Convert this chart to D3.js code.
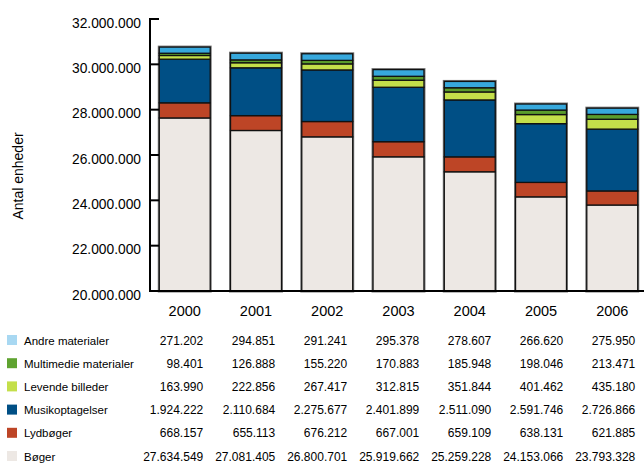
<!DOCTYPE html>
<html><head><meta charset="utf-8">
<script src="https://cdn.jsdelivr.net/npm/d3@7"></script>
<style>body{margin:0;background:#fff}svg{display:block;font-family:"Liberation Sans",Arial,sans-serif}</style>
</head><body><svg id="c" width="644" height="463"></svg>
<script>
const years = ["2000","2001","2002","2003","2004","2005","2006"];
const seriesNames = ["Bøger","Lydbøger","Musikoptagelser","Levende billeder","Multimedie materialer","Andre materialer"];
const boger = [27634549,27081405,26800701,25919662,25259228,24153066,23793328];
const lydboger = [668157,655113,676212,667001,659109,638131,621885];
const musik = [1924222,2110684,2275677,2401899,2511090,2591746,2726866];
const levende = [163990,222856,267417,312815,351844,401462,435180];
const multimedie = [98401,126888,155220,170883,185948,198046,213471];
const andre = [271202,294851,291241,295378,278607,266620,275950];
const yTicks = [20000000,22000000,24000000,26000000,28000000,30000000,32000000];
const barColors = ["#ede8e4","#bd4526","#004f85","#c4df4a","#5a9c2c","#37a8dc"];
const legendColors = ["#ede8e4","#bd4526","#004f85","#c4df4a","#5fa330","#a8d8f2"];

const values = [boger,lydboger,musik,levende,multimedie,andre];
const table = years.map((y,i)=>{const o={year:y}; seriesNames.forEach((s,j)=>o[s]=values[j][i]); return o;});
const stack = d3.stack().keys(seriesNames)(table);

const svg = d3.select("#c");
const x = d3.scaleBand().domain(years).range([150,647]).paddingInner(0.285).paddingOuter(0.13);
const y = d3.scaleLinear().domain([20000000,32000000]).range([291,19]);
const fmt = v => d3.format(",")(v).replace(/,/g,".");

// bars
const g = svg.append("g");
years.forEach((yr,i)=>{
  const tot = d3.sum(values,v=>v[i]);
  g.append("rect").attr("x",x(yr)).attr("y",y(tot)).attr("width",x.bandwidth()).attr("height",y(20000000)-y(tot))
   .attr("fill","none").attr("stroke","#777").attr("stroke-width",3);
});
stack.forEach((layer,j)=>{
  g.selectAll(null).data(layer).enter().append("rect")
   .attr("x",d=>x(d.data.year))
   .attr("y",d=>y(d[1]))
   .attr("width",x.bandwidth())
   .attr("height",d=>Math.max(0,y(Math.max(d[0],20000000))-y(d[1])))
   .attr("fill",barColors[j]).attr("stroke","#111").attr("stroke-width",1.3);
});

// y axis
const ya = svg.append("g");
ya.append("line").attr("x1",150).attr("x2",150).attr("y1",y(32000000)).attr("y2",y(20000000)).attr("stroke","#000").attr("stroke-width",2);
ya.selectAll(null).data(yTicks).enter().append("line")
  .attr("x1",149).attr("x2",159).attr("y1",d=>y(d)).attr("y2",d=>y(d)).attr("stroke","#000").attr("stroke-width",2);
ya.selectAll(null).data(yTicks).enter().append("text")
  .attr("x",141).attr("y",d=>y(d)+8.5).attr("text-anchor","end").attr("font-size",14.5).attr("fill","#000")
  .attr("textLength",69).attr("lengthAdjust","spacingAndGlyphs")
  .text(d=>fmt(d));
// x axis
svg.append("line").attr("x1",149).attr("x2",644).attr("y1",y(20000000)).attr("y2",y(20000000)).attr("stroke","#000").attr("stroke-width",2);
svg.selectAll(null).data(years).enter().append("text")
  .attr("x",d=>x(d)+x.bandwidth()/2).attr("y",316).attr("text-anchor","middle").attr("font-size",14.5).attr("fill","#000")
  .text(d=>d);

// axis title
svg.append("text").attr("transform","translate(23,176) rotate(-90)").attr("text-anchor","middle")
  .attr("font-size",14).attr("fill","#000").text("Antal enheder");

// table legend
const rows = seriesNames.slice().reverse();
const rowY = d3.scalePoint().domain(rows).range([340,456]);
rows.forEach(s=>{
  const j = seriesNames.indexOf(s);
  const cy = rowY(s);
  svg.append("rect").attr("x",7).attr("y",cy-5).attr("width",10).attr("height",10).attr("fill",legendColors[j]);
  svg.append("text").attr("x",24).attr("y",cy+4.5).attr("font-size",11.5).attr("fill","#000").text(s);
  svg.selectAll(null).data(years).enter().append("text")
    .attr("x",(d,i)=>x(d)+x.bandwidth()/2+18.5+i*0.75).attr("y",cy+4.5).attr("text-anchor","end")
    .attr("font-size",12).attr("fill","#000")
    .text((d,i)=>fmt(values[j][i]));
});
</script></body></html>
